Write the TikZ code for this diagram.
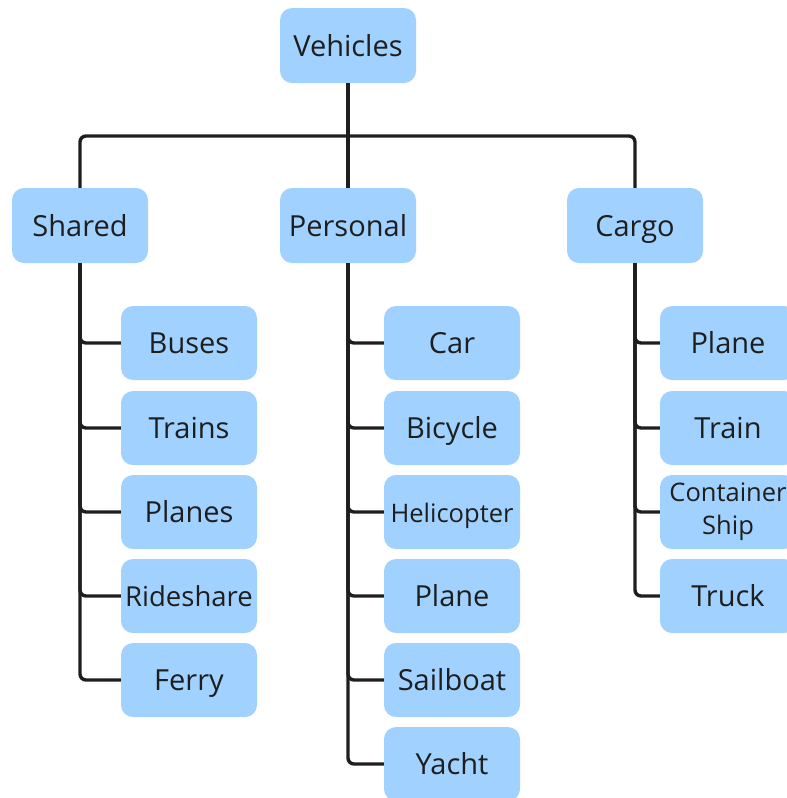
\documentclass[tikz,border=0pt]{standalone}
\usepackage{fontspec}
\setmainfont{Open Sans}
\definecolor{boxblue}{RGB}{160,209,255}
\definecolor{ink}{RGB}{30,30,30}
\begin{document}
\begin{tikzpicture}[x=1pt,y=-1pt,
	box/.style={fill=boxblue, rounded corners=12pt, minimum width=136pt, minimum height=75pt, inner sep=0pt, text=ink, text height=21pt, text depth=0pt, font=\fontsize{29}{34}\selectfont},
	leaf/.style={box, minimum height=74pt},
	link/.style={draw=ink, line width=3.4pt, rounded corners=6pt}]
	\useasboundingbox (0,0) rectangle (787,798);
	% top level
	\node[box] (vehicles) at (348,45.5) {Vehicles};
	\node[box] (shared) at (80,225.5) {Shared};
	\node[box] (personal) at (348,225.5) {Personal};
	\node[box] (cargo) at (635,225.5) {Cargo};
	\coordinate (bar) at (348,136);
	% shared
	\node[leaf] (buses) at (189,343) {Buses};
	\node[leaf] (trains) at (189,428) {Trains};
	\node[leaf] (planes) at (189,512) {Planes};
	\node[leaf, font=\fontsize{27.5}{32}\selectfont] (rideshare) at (189,596) {Rideshare};
	\node[leaf] (ferry) at (189,680) {Ferry};
	% personal
	\node[leaf] (car) at (452,343) {Car};
	\node[leaf] (bicycle) at (452,428) {Bicycle};
	\node[leaf, font=\fontsize{25.5}{30}\selectfont] (helicopter) at (452,512) {Helicopter};
	\node[leaf] (pplane) at (452,596) {Plane};
	\node[leaf] (sailboat) at (452,680) {Sailboat};
	\node[leaf] (yacht) at (452,764) {Yacht};
	% cargo
	\node[leaf] (cplane) at (728,343) {Plane};
	\node[leaf] (ctrain) at (728,428) {Train};
	\node[leaf, align=center, text height=, text depth=, font=\fontsize{25.5}{33}\selectfont] (ship) at (728,512) {Container\\Ship};
	\node[leaf] (truck) at (728,596) {Truck};
	% links
	\draw[link] (vehicles.south) -- (personal.north);
	\draw[link] (shared.north) |- (bar) -| (cargo.north);
	\draw[link] (shared.south) |- (buses.west);
	\draw[link] (shared.south) |- (trains.west);
	\draw[link] (shared.south) |- (planes.west);
	\draw[link] (shared.south) |- (rideshare.west);
	\draw[link] (shared.south) |- (ferry.west);
	\draw[link] (personal.south) |- (car.west);
	\draw[link] (personal.south) |- (bicycle.west);
	\draw[link] (personal.south) |- (helicopter.west);
	\draw[link] (personal.south) |- (pplane.west);
	\draw[link] (personal.south) |- (sailboat.west);
	\draw[link] (personal.south) |- (yacht.west);
	\draw[link] (cargo.south) |- (cplane.west);
	\draw[link] (cargo.south) |- (ctrain.west);
	\draw[link] (cargo.south) |- (ship.west);
	\draw[link] (cargo.south) |- (truck.west);
\end{tikzpicture}
\end{document}
